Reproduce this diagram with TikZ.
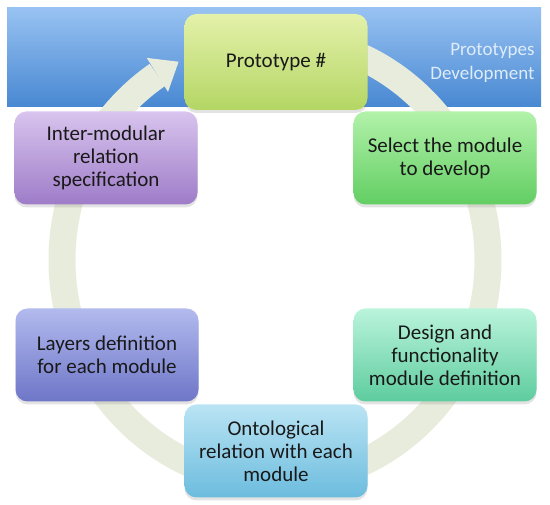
\documentclass[tikz,border=0pt]{standalone}
\usepackage{fontspec}
\setmainfont{Carlito}
\usetikzlibrary{shadows}
\definecolor{ringc}{RGB}{232,236,220}
\definecolor{bandtop}{RGB}{152,194,242}
\definecolor{bandbot}{RGB}{72,136,210}
\definecolor{bandtext}{RGB}{222,236,250}
\definecolor{txt}{RGB}{25,25,25}
\begin{document}
\begin{tikzpicture}[x=1pt,y=-1pt,
  box/.style={rounded corners=12pt, minimum width=183pt, minimum height=93pt,
    align=center, font=\fontsize{21}{23}\selectfont, text=txt, inner sep=2pt,
    drop shadow={opacity=0.22, shadow xshift=0pt, shadow yshift=-3pt}},
  ring/.style={draw=ringc, line width=27pt}
]
\useasboundingbox (0,0) rectangle (550,505);
% band
\shade[top color=bandtop, bottom color=bandbot] (7,8) rectangle (541,107);
\node[anchor=east, align=right, text=bandtext, font=\fontsize{19}{24}\selectfont] (band) at (538,63) {Prototypes\\Development};
% ring arrow
\draw[ring]
  plot[domain=0:316.5, samples=160, smooth] ({275+213*cos(80-\x)}, {260-222*sin(80-\x)});
\coordinate (wingA) at (146.8,57.9);
\coordinate (wingB) at (168.0,91.9);
\coordinate (tip) at (178.6,61.7);
\fill[ringc] (wingA) -- (tip) -- (wingB) -- cycle;
% boxes
\node[box, minimum height=96pt, top color={rgb,255:red,228;green,241;blue,170}, bottom color={rgb,255:red,180;green,214;blue,100}] (proto) at (276,62) {Prototype \#};
\node[box, top color={rgb,255:red,216;green,196;blue,238}, bottom color={rgb,255:red,158;green,124;blue,200}] (inter) at (106,158) {Inter-modular\\relation\\specification};
\node[box, top color={rgb,255:red,178;green,242;blue,170}, bottom color={rgb,255:red,98;green,206;blue,98}] (select) at (445,158) {Select the module\\to develop};
\node[box, top color={rgb,255:red,178;green,186;blue,238}, bottom color={rgb,255:red,110;green,118;blue,200}] (layers) at (107,355) {Layers definition\\for each module};
\node[box, top color={rgb,255:red,186;green,244;blue,220}, bottom color={rgb,255:red,94;green,204;blue,158}] (design) at (445,355) {Design and\\functionality\\module definition};
\node[box, top color={rgb,255:red,186;green,228;blue,244}, bottom color={rgb,255:red,108;green,188;blue,222}] (onto) at (276,451) {Ontological\\relation with each\\module};
\end{tikzpicture}
\end{document}
